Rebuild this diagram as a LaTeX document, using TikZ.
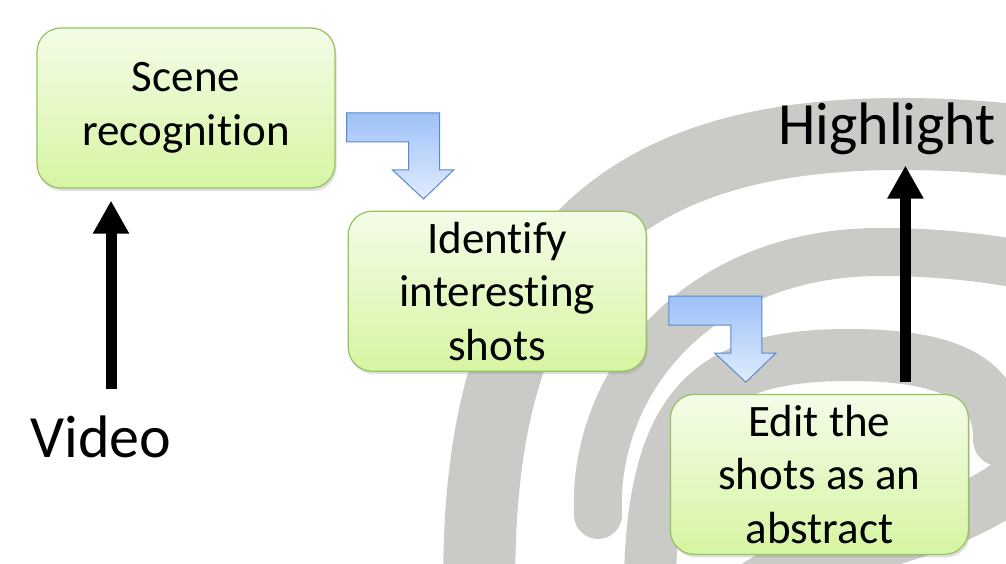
\documentclass[tikz,border=0pt]{standalone}
\usepackage{fontspec}
\setmainfont{Carlito}[Ligatures=NoCommon]
\usetikzlibrary{arrows.meta, shadows, positioning}

\definecolor{boxtop}{RGB}{244,252,232}
\definecolor{boxbot}{RGB}{214,245,162}
\definecolor{boxline}{RGB}{150,195,95}
\definecolor{elbowtop}{RGB}{158,193,248}
\definecolor{elbowbot}{RGB}{224,236,254}
\definecolor{elbowline}{RGB}{88,138,200}
\definecolor{fpgray}{RGB}{202,203,198}

\tikzset{
	procbox/.style={draw=boxline, line width=1.2pt, rounded corners=24pt, top color=boxtop, bottom color=boxbot,
		minimum width=298pt, minimum height=160pt, align=center, font=\fontsize{45}{53.5}\selectfont,
		drop shadow={shadow xshift=1.5pt, shadow yshift=-3pt, opacity=0.25}},
	biglabel/.style={font=\fontsize{60}{70}\selectfont, inner sep=0pt, anchor=base},
	bigarrow/.style={line width=11pt, -{Triangle[width=34pt,length=33pt]}},
	fpband/.style={draw=fpgray, line cap=round},
	elbow/.pic={
		\path[draw=elbowline, line width=1pt, top color=elbowtop, bottom color=elbowbot]
			(0,0) -- (93,0) -- (93,57) -- (107,57) -- (77,86) -- (46,57) -- (62,57) -- (62,29) -- (0,29) -- cycle;
	}
}

\begin{document}
\begin{tikzpicture}[x=1pt, y=-1pt]
	\useasboundingbox[fill=white] (0,0) rectangle (1006,564);

	\begin{scope}
		\clip (0,0) rectangle (1006,564);
		\draw[fpband, line width=72pt] (480,620) .. controls (468,275) and (600,134) .. (900,134) .. controls (950,134) and (990,137) .. (1040,143);
		\draw[fpband, line width=48pt] (598,515) .. controls (592,380) and (700,252) .. (880,252) .. controls (940,252) and (990,258) .. (1040,268);
		\draw[fpband, line width=52pt] (650,620) .. controls (645,400) and (710,355) .. (850,355) .. controls (950,355) and (1000,380) .. (999,440);
		\draw[fpband, line width=55pt] (730,620) .. controls (760,540) and (940,560) .. (1040,460);
	\end{scope}

	\node[procbox] (scene) at (186,108) {Scene\\recognition};
	\node[procbox, below right=22pt and 12pt of scene] (ident) {Identify\\interesting\\shots};
	\node[procbox, below right=22pt and 23pt of ident] (edit) {Edit the\\shots as an\\abstract};

	\node[biglabel] (video) at (101,457) {Video};
	\node[biglabel] (highlight) at (887,145) {Highlight};

	\foreach \src/\dx in {scene/11, ident/22}
		\pic at ([xshift=\dx pt, yshift=-5pt]\src.east) {elbow};

	\coordinate (vidfoot) at ([xshift=10pt]video.north);
	\coordinate (hlfoot) at ([xshift=86pt]edit.north);
	\draw[bigarrow, shorten <=26pt, shorten >=12pt] (vidfoot) -- (vidfoot |- scene.south);
	\draw[bigarrow, shorten <=12pt, shorten >=10pt] (hlfoot) -- (hlfoot |- highlight.south);
\end{tikzpicture}
\end{document}
